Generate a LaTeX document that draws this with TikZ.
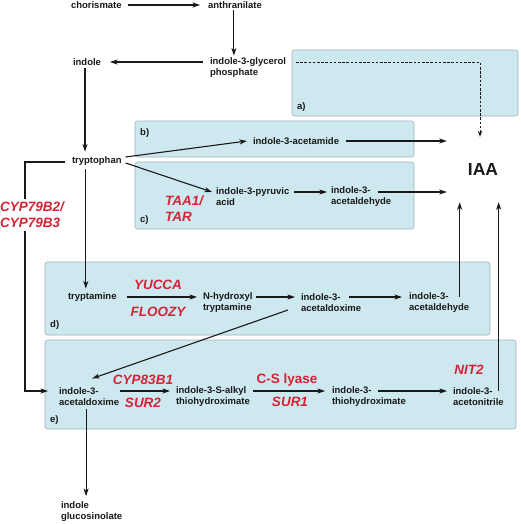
\documentclass[tikz,border=0pt]{standalone}
\usepackage{fontspec}
\setmainfont{Liberation Sans}
\usetikzlibrary{arrows.meta,calc}
\definecolor{panelblue}{RGB}{206,232,240}
\definecolor{panelline}{RGB}{160,178,186}
\definecolor{enzred}{RGB}{214,34,52}
\definecolor{ink}{RGB}{25,25,25}
\tikzset{
  txt/.style={font=\fontsize{9.5}{11}\selectfont\bfseries, align=left, inner sep=0pt, outer sep=0pt, anchor=west, text=ink},
  enz/.style={font=\fontsize{13.5}{16}\selectfont\bfseries\itshape, text=enzred, inner sep=0pt, align=left},
  enzup/.style={font=\fontsize{13.5}{16}\selectfont\bfseries, text=enzred, inner sep=0pt},
  arr/.style={-{Stealth[length=7.5pt,width=5pt,inset=2pt]}, line width=1.1pt, draw=ink},
  plain/.style={line width=1.1pt, draw=ink},
  dasharr/.style={-{Stealth[length=6pt,width=4.5pt,open]}, line width=0.8pt, draw=ink, dash pattern=on 2.6pt off 1.6pt},
  panel/.style={draw=panelline, fill=panelblue, rounded corners=2.5pt, line width=0.6pt},
  plabel/.style={font=\fontsize{9.5}{11}\selectfont\bfseries, text=ink, anchor=west, inner sep=0pt}
}
\begin{document}
\begin{tikzpicture}[x=1pt,y=-1pt]
\useasboundingbox (0,0) rectangle (521,524);
% panels
\draw[panel] (292,50) rectangle (518,116);
\draw[panel] (135,121) rectangle (414,157);
\draw[panel] (135,162) rectangle (414,229);
\draw[panel] (45,262) rectangle (490,335);
\draw[panel] (45,340) rectangle (516,429);
\node[plabel] (la) at (297,107) {a)};
\node[plabel] (lb) at (140,133) {b)};
\node[plabel] (lc) at (140,220) {c)};
\node[plabel] (ld) at (50,325) {d)};
\node[plabel] (le) at (50,420) {e)};
% compounds
\node[txt] (chor) at (71,5) {chorismate};
\node[txt] (anth) at (208,5) {anthranilate};
\node[txt] (igp) at (210,67.5) {indole-3-glycerol\\phosphate};
\node[txt] (indole) at (73,62) {indole};
\node[txt] (trp) at (72,161) {tryptophan};
\node[txt] (iam) at (253,141) {indole-3-acetamide};
\node[txt] (ipa) at (216,197) {indole-3-pyruvic\\acid};
\node[txt] (iaald1) at (331,197) {indole-3-\\acetaldehyde};
\node[font=\fontsize{17.5}{20}\selectfont\bfseries, text=ink, minimum width=72pt, minimum height=65pt, inner sep=0pt, text depth=0pt] (iaa) at (483,169.5) {IAA};
\node[txt] (tam) at (68,297) {tryptamine};
\node[txt] (nht) at (203,302.5) {N-hydroxyl\\tryptamine};
\node[txt] (iaox1) at (301,302.5) {indole-3-\\acetaldoxime};
\node[txt] (iaald2) at (409,302.5) {indole-3-\\acetaldehyde};
\node[txt] (iaox2) at (59,396.5) {indole-3-\\acetaldoxime};
\node[txt] (sat) at (176,396.5) {indole-3-S-alkyl\\thiohydroximate};
\node[txt] (ith) at (332,396.5) {indole-3-\\thiohydroximate};
\node[txt] (ian) at (453,396.5) {indole-3-\\acetonitrile};
\node[txt] (igs) at (61,512) {indole\\glucosinolate};
% connectors
\draw[arr] ($(chor.east)+(6,0)$) -- ($(anth.west)+(-8,0)$);
\draw[arr] ($(anth.south)+(-1,2)$) -- ($(anth.south|-igp.north)+(-1,-2)$);
\draw[arr] ($(igp.west|-indole.east)+(-7,0)$) -- ($(indole.east)+(9,0)$);
\draw[arr] ($(indole.south)+(-2,3)$) -- ($(indole.south|-trp.north)+(-2,-5)$);
\draw[dasharr] ($(igp.east|-indole.east)+(10,0)$) -| ($(iaa.north)+(-3,0)$);
\draw[arr] ($(trp.east)+(4,-4)$) -- ($(iam.west)+(-6,0)$);
\draw[arr] ($(iam.east)+(7,0)$) -- (iam.east-|iaa.west);
\draw[arr] ($(trp.east)+(4,2)$) -- ($(ipa.west)+(-4,-5)$);
\draw[arr] ($(ipa.east)+(5,-5)$) -- ($(iaald1.west)+(-4,-5)$);
\draw[arr] ($(iaald1.east)+(-13,-5)$) -- ($(iaa.west|-iaald1.east)+(0,-5)$);
\draw[arr] ($(trp.south)+(-11,4)$) -- ($(trp.south|-tam.north)+(-11,-4)$);
\draw[plain] ($(trp.west)+(-7,1)$) -| ($(iaox2.west)+(-34,-5.5)$);
\draw[arr] ($(iaox2.west)+(-34.55,-5.5)$) -- ($(iaox2.west)+(-11,-5.5)$);
\draw[arr] ($(tam.east)+(10,0)$) -- ($(nht.west|-tam.east)+(-6,0)$);
\draw[arr] ($(nht.east)+(3,-5.5)$) -- ($(iaox1.west)+(-6,-5.5)$);
\draw[arr] ($(iaox1.east)+(-12,-5.5)$) -- ($(iaald2.west)+(-7,-5.5)$);
\draw[arr] ($(iaald2.east)+(-9.5,-5.5)$) -- ($(iaald2.east|-iaa.south)+(-9.5,0)$);
\draw[arr] ($(ian.east)+(-5,-5.5)$) -- ($(ian.east|-iaa.south)+(-5,0)$);
\draw[arr] ($(iaox1.west)+(-13,7.5)$) -- ($(iaox2.north)+(3,-9)$);
\draw[arr] ($(iaox2.east)+(1,-5.5)$) -- ($(sat.west)+(-6,-5.5)$);
\draw[arr] ($(sat.east)+(3,-5.5)$) -- ($(ith.west)+(-7,-5.5)$);
\draw[arr] ($(ith.east)+(-28,-5.5)$) -- ($(ian.west)+(-6,-5.5)$);
\draw[arr] ($(iaox2.south)+(-3,4)$) -- ($(iaox2.south|-igs.north)+(-3,-6)$);
% enzymes
\node[enz, fill=white, inner sep=3pt, anchor=west] (cyp79) at (-3,215) {CYP79B2/\\CYP79B3};
\node[enz, anchor=west] (taa) at (165,209) {TAA1/\\TAR};
\node[enz] (yucca) at (158,285) {YUCCA};
\node[enz] (floozy) at (158,312) {FLOOZY};
\node[enz] (cyp83) at (143,380) {CYP83B1};
\node[enz] (sur2) at (143,403) {SUR2};
\node[enzup] (csly) at (287,380) {C-S lyase};
\node[enz] (sur1) at (290,402) {SUR1};
\node[enz] (nit2) at (469,370) {NIT2};
\end{tikzpicture}
\end{document}
